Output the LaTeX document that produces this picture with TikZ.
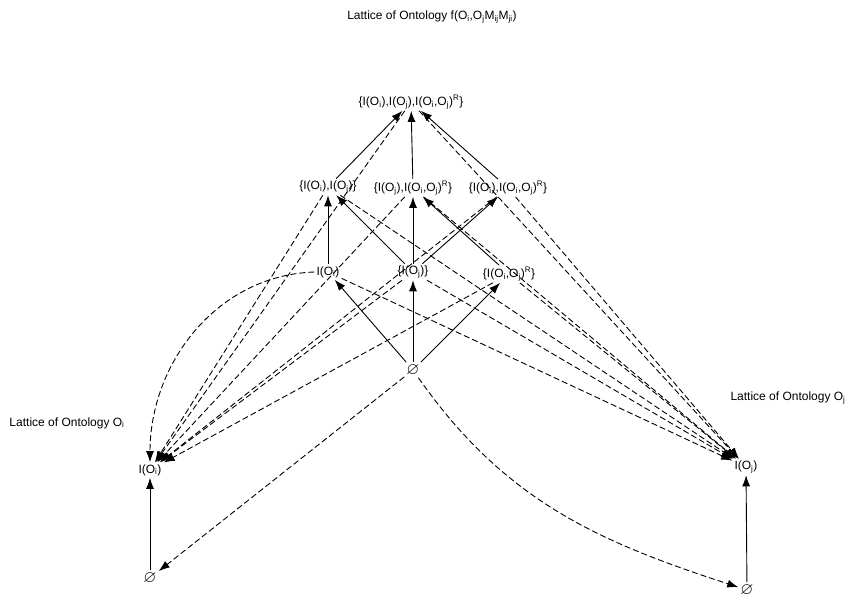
\documentclass[tikz,border=0pt]{standalone}
\usepackage{fontspec}
\usepackage{amssymb}
\setmainfont{Liberation Sans}
\usetikzlibrary{arrows.meta}
\newcommand{\Osi}{O\textsubscript{i}}
\newcommand{\Osj}{O\textsubscript{j}}
\newcommand{\emptyel}{\scalebox{1.4}{$\varnothing$}}
\begin{document}
\begin{tikzpicture}[x=1pt,y=-1pt,
  lbl/.style={font=\fontsize{12}{14}\selectfont, inner sep=2pt},
  arr/.style={-{Latex[length=11pt,width=8pt]}, line width=0.9pt},
  dsh/.style={arr, dash pattern=on 6pt off 3pt}]
\useasboundingbox (0,0) rectangle (855,611);

% titles
\node[lbl] (title) at (432,17) {Lattice of Ontology f(\Osi,\Osj M\textsubscript{ij}M\textsubscript{ji})};
\node[lbl] (ttli) at (67,423) {Lattice of Ontology \Osi};
\node[lbl] (ttlj) at (788,398) {Lattice of Ontology \Osj};

% combined lattice
\node[lbl] (T) at (411,102) {\{I(\Osi),I(\Osj),I(\Osi,\Osj)\textsuperscript{R}\}};
\node[lbl] (A) at (328,187) {\{I(\Osi),I(\Osj)\}};
\node[lbl] (B) at (413,188) {\{I(\Osj),I(\Osi,\Osj)\textsuperscript{R}\}};
\node[lbl] (C) at (508,188) {\{I(\Osi),I(\Osi,\Osj)\textsuperscript{R}\}};
\node[lbl] (D) at (328,272) {I(\Osi)};
\node[lbl] (E) at (413,272) {\{I(\Osj)\}};
\node[lbl] (F) at (509,274) {\{I(\Osi,\Osj)\textsuperscript{R}\}};
\node[lbl] (Z) at (413,370) {\emptyel};

% single ontology lattices
\node[lbl] (Li) at (150,470) {I(\Osi)};
\node[lbl] (Zi) at (150,578) {\emptyel};
\node[lbl] (Lj) at (746,467) {I(\Osj)};
\node[lbl] (Zj) at (747,590) {\emptyel};

% order relation of the combined lattice
\draw[arr] (Z) -- (D);
\draw[arr] (Z) -- (E);
\draw[arr] (Z) -- (F);
\draw[arr] (D) -- (A);
\draw[arr] (E) -- (A);
\draw[arr] (E) -- (B);
\draw[arr] (E) -- (C);
\draw[arr] (F) -- (B);
\draw[arr] (A) -- (T);
\draw[arr] (B) -- (T);
\draw[arr] (C) -- (T);
\draw[arr] (Zi) -- (Li);
\draw[arr] (Zj) -- (Lj);

% projections onto O_i
\foreach \n in {T,A,B,C,E,F} \draw[dsh] (\n) -- (Li);
\draw[dsh] (D.west) to[out=182,in=90] (Li.north);
\draw[dsh] (Z) -- (Zi);

% projections onto O_j
\foreach \n in {T,A,B,C,D,E,F} \draw[dsh] (\n) -- (Lj);
\draw[dsh] (Z) to[out=-55,in=162] (Zj);
\end{tikzpicture}
\end{document}
